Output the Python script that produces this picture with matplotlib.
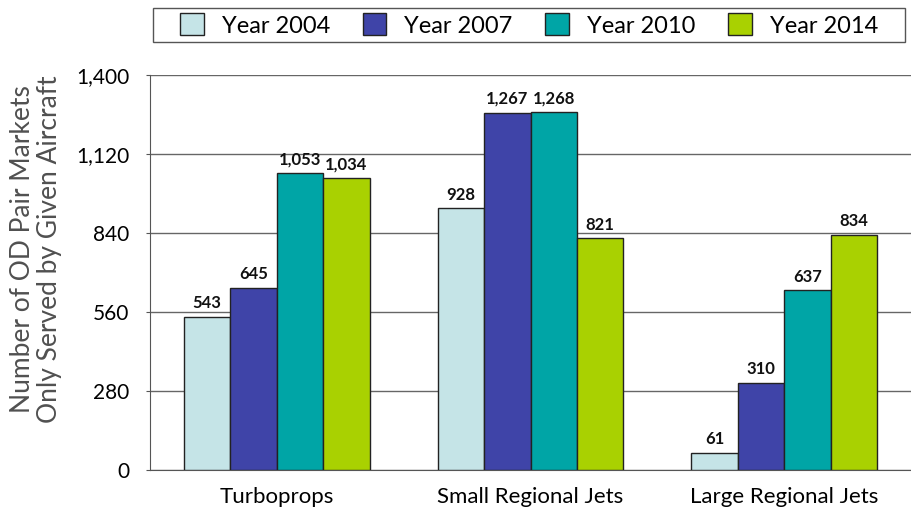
import matplotlib.pyplot as plt
from matplotlib.patches import Rectangle
import numpy as np

categories = ['Turboprops', 'Small Regional Jets', 'Large Regional Jets']
years = ['Year 2004', 'Year 2007', 'Year 2010', 'Year 2014']
values = {
    'Year 2004': [543, 928, 61],
    'Year 2007': [645, 1267, 310],
    'Year 2010': [1053, 1268, 637],
    'Year 2014': [1034, 821, 834],
}
colors = ['#c5e4e7', '#3f44a8', '#00a5a6', '#a9d101']
yticks = [0, 280, 560, 840, 1120, 1400]

plt.rcParams['font.family'] = ['Lato', 'DejaVu Sans']

fig = plt.figure(figsize=(9.12, 5.14), dpi=100)
ax = fig.add_axes([0.1645, 0.0856, 0.8345, 0.7685])

x = np.arange(len(categories))
w = 0.183
for i, yr in enumerate(years):
    pos = x + (i - 1.5) * w
    bars = ax.bar(pos, values[yr], width=w, color=colors[i], edgecolor='#222222',
                  linewidth=1, label=yr, zorder=3)
    for b, v in zip(bars, values[yr]):
        ax.annotate(f'{v:,}', (b.get_x() + b.get_width() / 2, v), xytext=(0, 4),
                    textcoords='offset points', ha='center', va='bottom',
                    fontsize=12, fontweight='bold', color='#111111')

ax.set_xlim(-0.5, 2.5)
ax.set_ylim(0, 1400)
ax.set_yticks(yticks)
ax.set_yticklabels([f'{t:,}' for t in yticks], fontsize=15)
ax.set_xticks(x)
ax.set_xticklabels(categories, fontsize=16)
ax.tick_params(axis='x', length=0, pad=12)
ax.tick_params(axis='y', length=3, color='#555555', pad=12)
ax.yaxis.grid(True, color='#666666', linewidth=1, zorder=0)
for s in ['top', 'right']:
    ax.spines[s].set_visible(False)
ax.spines['left'].set_color('#555555')
ax.spines['bottom'].set_color('#555555')
ax.set_ylabel('Number of OD Pair Markets\nOnly Served by Given Aircraft', fontsize=19,
              color='#505050', linespacing=1.1)
ax.yaxis.set_label_coords(-0.116, 0.56)

# legend box drawn by hand, entries placed with a frameless legend
fig.patches.append(Rectangle((153 / 912, 1 - 42 / 514), 752 / 912, 34 / 514,
                             transform=fig.transFigure, facecolor='white',
                             edgecolor='#555555', linewidth=1))
leg = fig.legend(loc='center', bbox_to_anchor=(529 / 912, 1 - 25 / 514),
                 ncol=4, fontsize=17, frameon=False, handlelength=1.0,
                 handleheight=1.05, handletextpad=0.75, columnspacing=1.4,
                 borderaxespad=0, borderpad=0)

plt.savefig('out.png', dpi=100)
